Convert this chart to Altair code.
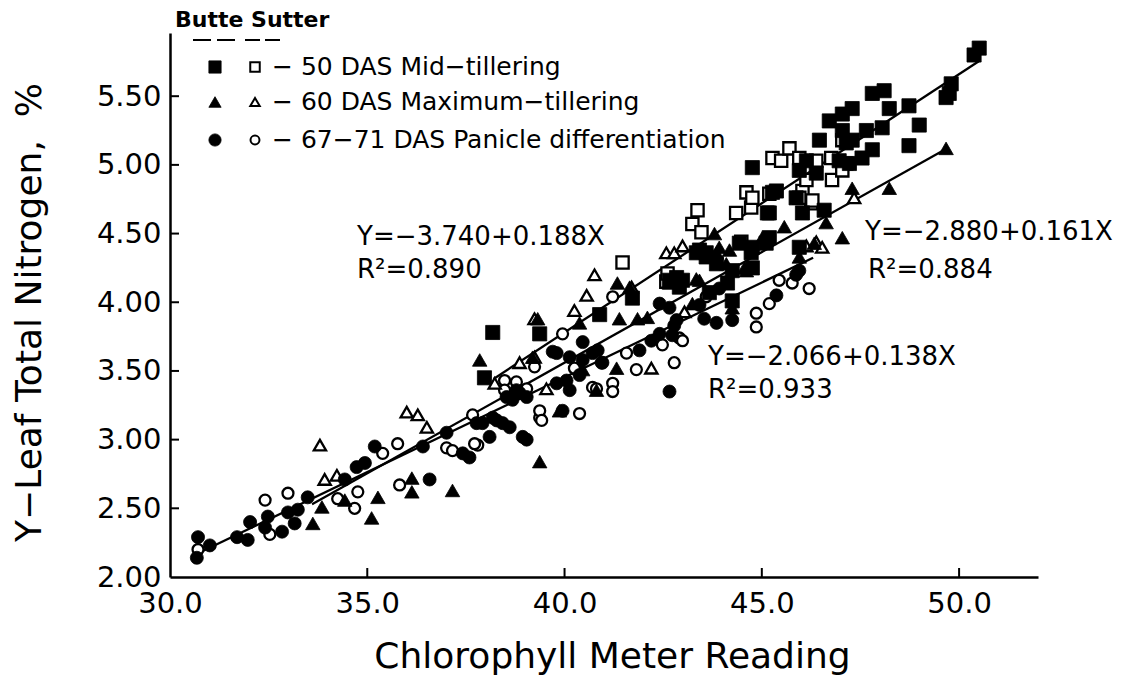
import altair as alt
import pandas as pd

# ---------------- data ----------------
# Butte, 50 DAS Mid-tillering (filled squares)
butte50_x = [38.18, 39.37, 37.97, 41.72, 40.89, 42.99, 43.34, 43.59, 42.66, 44.73,
             44.25, 44.76, 45.27, 45.87, 45.14, 46.13, 46.46, 46.71, 47.04, 47.29,
             47.80, 48.10, 48.23, 48.73, 48.05, 48.99, 48.73, 47.80, 47.54, 49.67,
             49.80, 50.38, 50.51, 49.75, 47.04, 47.29, 45.95, 44.76, 45.11, 43.42,
             43.59, 43.67, 42.84, 42.91, 44.13, 44.25, 47.14, 47.65, 46.96, 47.22,
             46.38, 45.95, 45.37, 45.19, 46.03, 46.58, 45.19, 44.43, 43.85, 44.76]
butte50_y = [3.78, 3.77, 3.45, 4.03, 3.91, 4.16, 4.36, 4.36, 4.16, 4.36,
             4.23, 4.98, 4.80, 4.76, 4.65, 5.03, 5.18, 5.32, 5.37, 5.41,
             5.52, 5.54, 5.41, 5.43, 5.27, 5.29, 5.14, 5.11, 5.05, 5.49,
             5.59, 5.80, 5.85, 5.52, 5.25, 5.18, 4.40, 4.40, 4.43, 4.38,
             4.33, 4.07, 4.18, 4.11, 4.14, 4.01, 5.16, 5.25, 5.03, 5.01,
             4.94, 4.96, 4.81, 4.65, 4.65, 4.67, 4.47, 4.43, 4.28, 4.25]

# Sutter, 50 DAS Mid-tillering (open squares)
sutter50_x = [41.47, 42.58, 43.24, 43.47, 43.37, 44.48, 44.35, 44.73, 44.61, 44.76,
              45.27, 45.49, 45.70, 45.95, 46.76, 47.14, 46.03, 46.25, 45.19, 46.78,
              47.04, 47.04, 46.13, 46.38, 42.61, 45.95, 46.28]
sutter50_y = [4.29, 4.15, 4.57, 4.51, 4.67, 4.44, 4.65, 4.69, 4.80, 4.76,
              5.05, 5.03, 5.12, 5.05, 5.05, 5.01, 4.81, 4.72, 4.79, 4.89,
              4.96, 5.18, 4.89, 5.03, 4.21, 4.76, 4.74]

# Butte, 60 DAS Maximum-tillering (filled triangles)
butte60_x = [33.62, 33.85, 35.11, 35.27, 36.13, 36.13, 37.16, 37.85, 39.32, 39.37,
             39.19, 40.38, 39.87, 41.34, 41.65, 41.39, 41.85, 42.10, 41.32, 40.81,
             43.85, 44.18, 44.25, 44.56, 43.34, 43.24, 47.29, 48.23, 47.04, 45.57,
             46.63, 45.01, 44.61, 43.92, 45.95, 49.67, 46.33, 43.80, 43.42, 44.10,
             42.66, 34.43, 40.46]
butte60_y = [2.39, 2.51, 2.43, 2.58, 2.72, 2.62, 2.63, 3.58, 3.88, 2.84,
             3.60, 3.85, 3.21, 4.14, 4.11, 3.88, 3.88, 3.89, 3.52, 3.36,
             4.36, 4.38, 3.96, 4.25, 4.17, 3.99, 4.83, 4.83, 4.47, 4.55,
             4.58, 4.47, 4.23, 4.40, 4.33, 5.12, 4.43, 4.50, 4.16, 4.28,
             4.14, 2.56, 3.51]

# Sutter, 60 DAS Maximum-tillering (open triangles)
sutter60_x = [33.80, 33.92, 34.23, 36.00, 36.28, 36.51, 40.25, 39.24, 38.86, 40.76,
              40.56, 42.20, 42.58, 42.78, 42.99, 43.04, 47.34, 46.13, 46.38, 46.53,
              39.24, 38.23, 39.54, 41.70]
sutter60_y = [2.96, 2.71, 2.74, 3.20, 3.18, 3.09, 3.94, 3.88, 3.56, 4.20,
              4.05, 3.52, 4.36, 4.36, 4.41, 3.93, 4.76, 4.41, 4.44, 4.40,
              3.60, 3.41, 3.37, 4.11]

# Butte, 67-71 DAS Panicle differentiation (filled circles)
butte67_x = [30.71, 30.68, 31.01, 31.70, 31.97, 32.03, 32.41, 32.48, 32.84, 32.99,
             33.24, 33.16, 33.49, 34.43, 34.73, 34.94, 35.19, 36.58, 36.41, 37.01,
             37.92, 38.28, 38.61, 38.94, 37.59, 37.42, 38.78, 39.04, 39.80, 40.05,
             39.80, 40.13, 40.46, 39.95, 38.68, 40.38, 39.70, 40.46, 40.84, 40.96,
             42.20, 42.41, 41.90, 42.78, 40.13, 38.86, 38.53, 38.18, 38.43, 37.77,
             38.10, 39.04, 42.66, 42.41, 42.66, 42.84, 42.73, 43.85, 44.25, 43.92,
             40.71, 40.94, 45.95, 45.87, 45.37, 43.42, 43.54]
butte67_y = [2.29, 2.14, 2.23, 2.29, 2.27, 2.40, 2.36, 2.44, 2.33, 2.47,
             2.49, 2.39, 2.58, 2.71, 2.80, 2.83, 2.95, 2.71, 2.95, 3.05,
             3.12, 3.14, 3.09, 3.02, 2.87, 2.90, 3.36, 3.31, 3.41, 3.43,
             3.63, 3.60, 3.58, 3.21, 3.29, 3.47, 3.64, 3.71, 3.65, 3.56,
             3.72, 3.77, 3.65, 3.83, 3.36, 3.34, 3.31, 3.16, 3.12, 3.12,
             3.02, 3.00, 3.35, 3.99, 3.96, 3.87, 3.76, 3.85, 3.87, 4.10,
             3.63, 3.56, 4.23, 4.20, 4.05, 3.98, 3.88]

# Sutter, 67-71 DAS Panicle differentiation (open circles)
sutter67_x = [30.71, 32.41, 32.99, 32.53, 34.25, 34.76, 34.68, 35.77, 35.39, 37.01,
              37.16, 35.82, 39.95, 39.24, 38.48, 38.78, 38.48, 37.67, 37.80, 39.37,
              39.37, 40.38, 40.30, 42.91, 42.48, 42.78, 41.82, 41.57, 41.22, 41.22,
              40.71, 40.25, 41.22, 43.59, 44.86, 44.86, 45.44, 46.20, 45.19, 45.77,
              39.04, 40.81, 39.42, 42.99, 37.72]
sutter67_y = [2.20, 2.56, 2.61, 2.31, 2.57, 2.62, 2.50, 2.97, 2.90, 2.94,
              2.92, 2.67, 3.77, 3.53, 3.43, 3.42, 3.36, 3.18, 2.96, 3.16,
              3.21, 3.19, 3.51, 3.74, 3.69, 3.56, 3.51, 3.63, 3.41, 3.35,
              3.38, 3.52, 4.04, 4.04, 3.92, 3.82, 4.16, 4.10, 3.99, 4.14,
              3.37, 3.37, 3.14, 3.72, 2.97]

# Regression lines (from the printed equations) and their x extents
line_ids = ["50 DAS", "60 DAS", "67-71 DAS"]
line_intercept = [-3.740, -2.880, -2.066]
line_slope = [0.188, 0.161, 0.138]
line_x_start = [38.2, 33.6, 30.7]
line_x_end = [50.5, 49.7, 46.3]

x_ticks = [30, 35, 40, 45, 50]
y_ticks = [2.0, 2.5, 3.0, 3.5, 4.0, 4.5, 5.0, 5.5]
x_inner_ticks = [35, 40, 45, 50]
y_inner_ticks = [2.5, 3.0, 3.5, 4.0, 4.5, 5.0, 5.5]

eq_texts = ["Y=\u22123.740+0.188X", "R\u00b2=0.890",
            "Y=\u22122.880+0.161X", "R\u00b2=0.884",
            "Y=\u22122.066+0.138X", "R\u00b2=0.933"]
legend_rows = ["\u2212 50 DAS Mid\u2212tillering",
               "\u2212 60 DAS Maximum\u2212tillering",
               "\u2212 67\u221271 DAS Panicle differentiation"]
y_title = "Y\u2212Leaf Total Nitrogen,\u00a0\u00a0%"

# ---------------- chart ----------------
W, H = 868, 544
FONT = "DejaVu Sans"
xs = alt.Scale(domain=[30, 52], nice=False, zero=False)
ys = alt.Scale(domain=[2.0, 5.96], nice=False, zero=False)

xaxis = alt.Axis(values=x_ticks, format=".1f", title="Chlorophyll Meter Reading",
                 ticks=False, grid=False, domainColor="black", domainWidth=2.5,
                 labelFont=FONT, labelFontSize=29, labelColor="black", labelPadding=12,
                 labelFlush=False, titleFont=FONT, titleFontSize=36,
                 titleFontWeight="normal", titleColor="black", titleX=442, titleY=90,
                 titleBaseline="alphabetic", titleAlign="center")
yaxis = alt.Axis(values=y_ticks, format=".2f", title=y_title,
                 ticks=False, grid=False, domainColor="black", domainWidth=2.5,
                 labelFont=FONT, labelFontSize=29, labelColor="black", labelPadding=9,
                 labelFlush=False, titleFont=FONT, titleFontSize=36,
                 titleFontWeight="normal", titleColor="black", titleX=-130, titleY=279,
                 titleAngle=270, titleBaseline="alphabetic", titleAlign="center")

xenc = alt.X("x:Q", scale=xs, axis=xaxis)
yenc = alt.Y("y:Q", scale=ys, axis=yaxis)

rows = []
for lid, b0, b1, xa, xb in zip(line_ids, line_intercept, line_slope, line_x_start, line_x_end):
    rows.append({"line": lid, "x": xa, "y": b0 + b1 * xa})
    rows.append({"line": lid, "x": xb, "y": b0 + b1 * xb})
lines = alt.Chart(pd.DataFrame(rows)).mark_line(color="black", strokeWidth=2.3).encode(
    x=xenc, y=yenc, detail="line:N")


def pts(xv, yv, shape, filled, size):
    df = pd.DataFrame({"x": xv, "y": yv})
    if filled:
        m = alt.Chart(df).mark_point(shape=shape, filled=True, fill="black", stroke="black",
                                     strokeWidth=0.8, size=size, opacity=1)
    else:
        m = alt.Chart(df).mark_point(shape=shape, filled=True, fill="white", stroke="black",
                                     strokeWidth=2.3, size=size, opacity=1)
    return m.encode(x=xenc, y=yenc)


xt = alt.Chart(pd.DataFrame({"x": x_inner_ticks})).mark_rule(color="black", strokeWidth=2).encode(
    x=xenc, y=alt.value(H), y2=alt.value(H - 9))
yt = alt.Chart(pd.DataFrame({"y": y_inner_ticks})).mark_rule(color="black", strokeWidth=2).encode(
    y=yenc, x=alt.value(0), x2=alt.value(9))

one = alt.Data(values=[{}])


def txt(s, px, py, size, weight="normal"):
    return alt.Chart(one).mark_text(text=s, font=FONT, fontSize=size, fontWeight=weight,
                                    align="left", baseline="middle", color="black").encode(
        x=alt.value(px), y=alt.value(py))


def sym(shape, filled, px, py, size):
    if filled:
        m = alt.Chart(one).mark_point(shape=shape, filled=True, fill="black", stroke="black",
                                      strokeWidth=0.8, size=size, opacity=1)
    else:
        m = alt.Chart(one).mark_point(shape=shape, filled=True, fill="white", stroke="black",
                                      strokeWidth=2, size=size, opacity=1)
    return m.encode(x=alt.value(px), y=alt.value(py))


def dash(xa, xb, py):
    return alt.Chart(one).mark_rule(color="black", strokeWidth=2).encode(
        x=alt.value(xa), x2=alt.value(xb), y=alt.value(py))


legend = [
    txt("Butte Sutter", 5, -13, 22, "bold"),
    dash(23, 41, 7), dash(47, 65, 7), dash(75, 90, 7), dash(95, 110, 7),
    sym("square", True, 45, 34, 150), sym("square", False, 85, 34, 90),
    sym("triangle-up", True, 45, 69, 150), sym("triangle-up", False, 85, 69, 90),
    sym("circle", True, 45, 107, 150), sym("circle", False, 85, 107, 80),
    txt(legend_rows[0], 102, 34, 25),
    txt(legend_rows[1], 102, 69, 25),
    txt(legend_rows[2], 102, 107, 25),
]

annots = [
    txt(eq_texts[0], 187, 204, 26), txt(eq_texts[1], 187, 237, 26),
    txt(eq_texts[2], 695, 199, 26), txt(eq_texts[3], 698, 237, 26),
    txt(eq_texts[4], 538, 324, 26), txt(eq_texts[5], 538, 357, 26),
]

chart = alt.layer(
    lines,
    xt, yt,
    pts(sutter67_x, sutter67_y, "circle", False, 120),
    pts(sutter60_x, sutter60_y, "triangle-up", False, 150),
    pts(sutter50_x, sutter50_y, "square", False, 150),
    pts(butte67_x, butte67_y, "circle", True, 170),
    pts(butte60_x, butte60_y, "triangle-up", True, 210),
    pts(butte50_x, butte50_y, "square", True, 200),
    *legend,
    *annots,
).properties(
    width=W, height=H,
    padding={"left": 170, "top": 33, "right": 92, "bottom": 102},
    autosize=alt.AutoSizeParams(type="none"),
    background="white",
).configure_view(stroke=None)

chart.save("out.html", embed_options={"renderer": "svg", "actions": False})
